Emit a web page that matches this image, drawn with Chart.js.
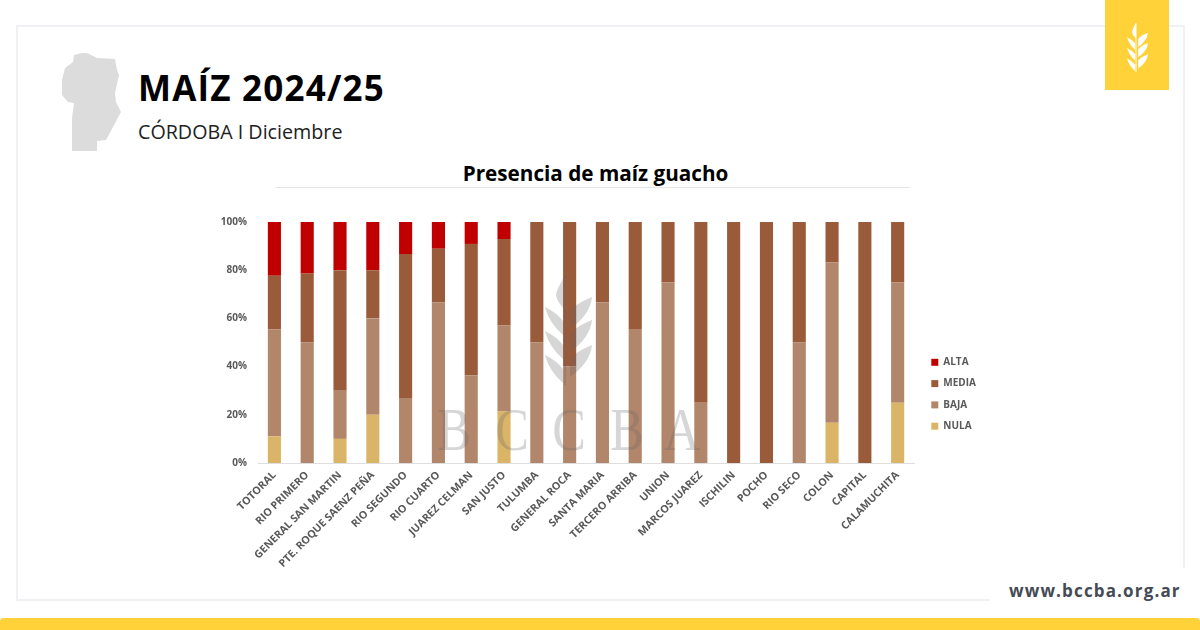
<!DOCTYPE html>
<html>
<head>
<meta charset="utf-8">
<script src="https://cdn.jsdelivr.net/npm/chart.js@4"></script>
<style>
    html, body { margin: 0; padding: 0; background: #fff; }
    #page { position: relative; width: 1200px; height: 630px; overflow: hidden; font-family: "Open Sans", sans-serif; }
    #page > * { position: absolute; }
    #frame { left: 16px; top: 25px; width: 1165px; height: 572px; border: 2px solid #f0f0f5; }
    #patch { left: 990px; top: 568px; width: 210px; height: 50px; background: #fff; }
    #tab { left: 1105px; top: 0; width: 64px; height: 90px; background: #ffd23a; }
    #foot { left: 0; top: 618px; width: 1200px; height: 12px; background: #ffd23a; border-radius: 4px 4px 0 0; }
    #web { left: 1009px; top: 579px; font-size: 17px; font-weight: 700; letter-spacing: 1.15px; color: #444b54; white-space: nowrap; line-height: 24px; }
    #head { left: 138px; top: 64px; font-size: 35px; font-weight: 700; letter-spacing: 1.2px; color: #000; white-space: nowrap; line-height: 48px; }
    #sub { left: 138px; top: 118px; font-size: 19.7px; color: #222; white-space: nowrap; line-height: 28px; }
    #ctitle { left: 278px; top: 159px; width: 635px; text-align: center; font-size: 20.7px; font-weight: 700; color: #000; line-height: 28px; }
    #crule { left: 275px; top: 187px; width: 635px; height: 1px; background: #e6e6e6; }
    #chart_maiz { left: 0; top: 0; }
    svg { left: 0; top: 0; }
</style>
</head>
<body>
<div id="page">
    <div id="frame"></div>
    <div id="patch"></div>
    <div id="foot"></div>
    <div id="tab"></div>
    <div id="web">www.bccba.org.ar</div>
    <div id="head">MAÍZ 2024/25</div>
    <div id="sub">CÓRDOBA I Diciembre</div>
    <div id="ctitle">Presencia de maíz guacho</div>
    <div id="crule"></div>
    <canvas id="chart_maiz" width="1200" height="630"></canvas>
    <svg width="1200" height="630" viewBox="0 0 1200 630">
        <defs>
            <g id="wheat">
                <path d="M-1 0H1V110H-1Z"/>
                <path d="M0 0Q-9 16 -9 20Q-8 27 0 35Z"/>
                <path id="leaf_r" d="M5 54V36Q10 29 27 22Q25 40 5 54Z"/>
                <path id="leaf_l" d="M-2 60V46Q-8 38 -20 32Q-16 48 -2 60Z"/>
                <use href="#leaf_r" y="23"/><use href="#leaf_r" y="48"/>
                <use href="#leaf_l" y="24"/><use href="#leaf_l" y="48"/>
            </g>
        </defs>
        <!-- provincia -->
        <path fill="#dcdcdc" d="M74 55L82 53L87 53L97 58L115 59L117 70L119 75L115 93L116 102L121 112L106 140L97 141L97 151L72 151L72 118L74 103L68 102L62 95L62 80L65 68L73 62Z"/>
        <!-- marca de agua, va por encima de las barras -->
        <g fill="#666" opacity="0.27">
            <use href="#wheat" x="565" y="275"/>
            <g font-family="Liberation Serif" font-size="58" text-anchor="middle">
                <text transform="translate(454 450) scale(0.87 1.05)">B</text>
                <text transform="translate(512 450) scale(0.87 1.05)">C</text>
                <text transform="translate(569 450) scale(0.87 1.05)">C</text>
                <text transform="translate(627 450) scale(0.87 1.05)">B</text>
                <text transform="translate(682 450) scale(0.87 1.05)">A</text>
            </g>
        </g>
        <use href="#wheat" fill="#fff" transform="translate(1136 23) scale(0.445)"/>
    </svg>
</div>
<script>
const departamentos = ['TOTORAL', 'RIO PRIMERO', 'GENERAL SAN MARTIN', 'PTE. ROQUE SAENZ PEÑA', 'RIO SEGUNDO',
    'RIO CUARTO', 'JUAREZ CELMAN', 'SAN JUSTO', 'TULUMBA', 'GENERAL ROCA', 'SANTA MARIA', 'TERCERO ARRIBA',
    'UNION', 'MARCOS JUAREZ', 'ISCHILIN', 'POCHO', 'RIO SECO', 'COLON', 'CAPITAL', 'CALAMUCHITA'];

const nula  = [11.1, 0, 10, 20, 0, 0, 0, 21.4, 0, 0, 0, 0, 0, 0, 0, 0, 0, 16.7, 0, 25];
const baja  = [44.4, 50, 20, 40, 26.7, 66.7, 36.4, 35.7, 50, 40, 66.7, 55.6, 75, 25, 0, 0, 50, 66.6, 0, 50];
const media = [22.2, 28.6, 50, 20, 60, 22.2, 54.5, 35.8, 50, 60, 33.3, 44.4, 25, 75, 100, 100, 50, 16.7, 100, 25];
const alta  = [22.3, 21.4, 20, 20, 13.3, 11.1, 9.1, 7.1, 0, 0, 0, 0, 0, 0, 0, 0, 0, 0, 0, 0];

const label_font = { family: 'Open Sans', size: 10, weight: 'bold' };
const label_color = '#595959';

const serie = (label, data, color) => ({
    label: label,
    data: data,
    backgroundColor: color,
    borderWidth: 0,
    barPercentage: 0.4,
    categoryPercentage: 1,
});

// the legend has no free position in chart.js, so it is moved after the layout
const move_legend = {
    id: 'move_legend',
    afterLayout: (chart) => {
        const legend = chart.legend;
        legend.left = 920;
        legend.right = 1000;
        legend.top = 346;
        legend.bottom = 600; // draw() wraps to a new column past this
    },
};

const chart = new Chart(document.getElementById('chart_maiz'), {
    type: 'bar',
    data: {
        labels: departamentos,
        datasets: [
            serie('NULA', nula, '#dbb567'),
            serie('BAJA', baja, '#b2866b'),
            serie('MEDIA', media, '#9a5b3b'),
            serie('ALTA', alta, '#c00000'),
        ],
    },
    options: {
        responsive: false,
        animation: false,
        layout: { padding: { left: 208, right: 220, top: 222, bottom: 47 } },
        plugins: {
            title: { display: false },
            tooltip: { enabled: false },
            legend: {
                position: 'right',
                align: 'start',
                reverse: true,
                labels: {
                    boxWidth: 7,
                    boxHeight: 7,
                    padding: 11.3,
                    color: label_color,
                    font: label_font,
                },
            },
        },
        scales: {
            x: {
                stacked: true,
                afterFit: (scale) => { scale.height = 120; },
                grid: { display: false, drawTicks: false },
                border: { color: '#dedede' },
                ticks: {
                    autoSkip: false,
                    minRotation: 45,
                    maxRotation: 45,
                    padding: 6,
                    color: label_color,
                    font: { family: 'Open Sans', size: 10.6, weight: 'bold' },
                },
            },
            y: {
                stacked: true,
                min: 0,
                max: 100,
                afterFit: (scale) => { scale.width = 50; },
                grid: { display: false, drawTicks: false },
                border: { display: false },
                ticks: {
                    stepSize: 20,
                    padding: 11,
                    color: label_color,
                    font: label_font,
                    callback: (value) => value + '%',
                },
            },
        },
    },
    plugins: [move_legend],
});
</script>
</body>
</html>
